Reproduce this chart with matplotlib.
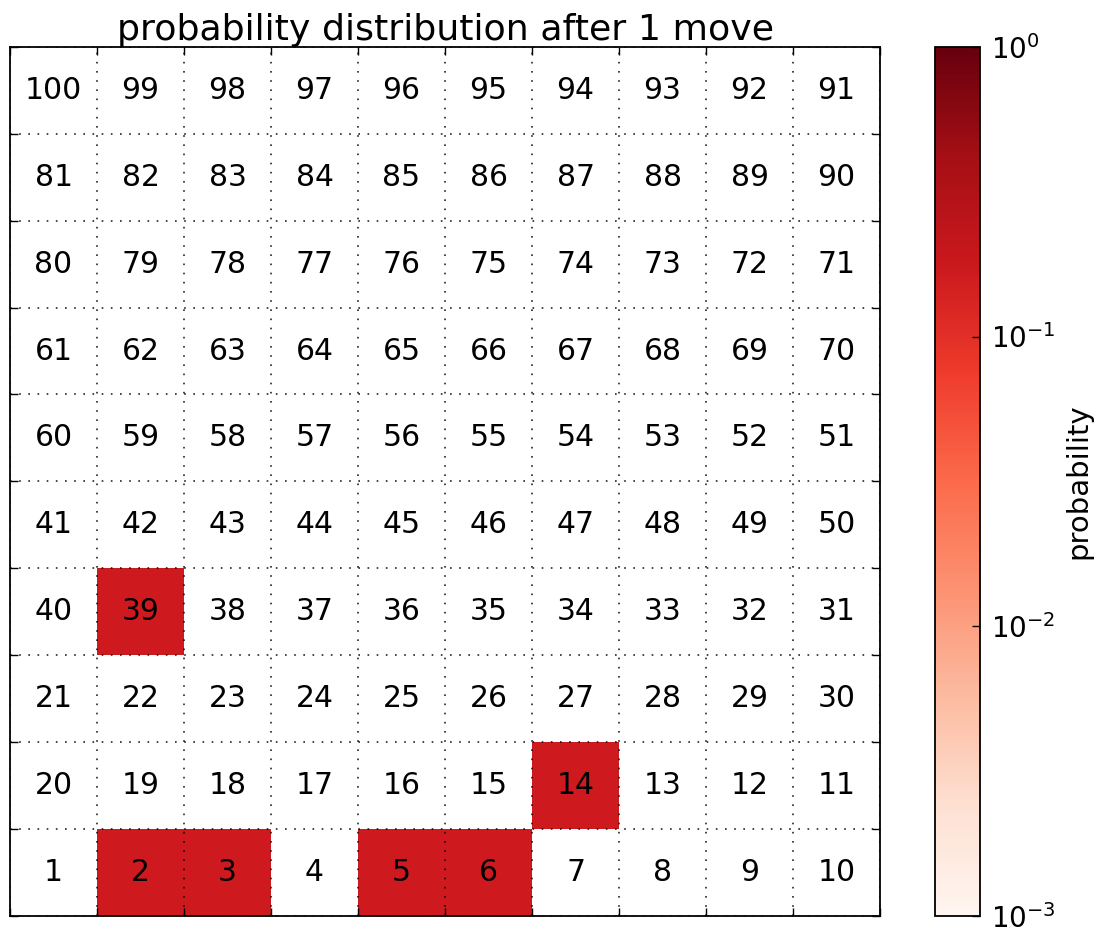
import numpy as np
import matplotlib
matplotlib.use("Agg")
import matplotlib.pyplot as plt
from matplotlib.colors import LogNorm

plt.rcParams['font.family'] = ['DejaVu Sans']
plt.rcParams['axes.unicode_minus'] = False

# board size and the squares reachable after one roll (die 1..6, ladders 1->39, 4->14)
n = 10
reached_squares = [2, 3, 5, 6, 14, 39]
reached_prob = [1 / 6] * 6
title = "probability distribution after 1 move"

prob = np.zeros(n * n)
for sq, p in zip(reached_squares, reached_prob):
    prob[sq - 1] = p


def square_at(row, col):
    # boustrophedon numbering: even rows run left->right, odd rows right->left
    if row % 2 == 0:
        return row * n + col + 1
    return row * n + (n - 1 - col) + 1


grid = np.zeros((n, n))
for r in range(n):
    for c in range(n):
        grid[r, c] = prob[square_at(r, c) - 1]
grid = np.ma.masked_where(grid <= 0, grid)

fig = plt.figure(figsize=(11.02, 9.32), dpi=100)
ax = fig.add_axes([0.0091, 0.0175, 0.7895, 0.9321])
cax = fig.add_axes([0.8485, 0.0175, 0.0408, 0.9321])

mesh = ax.pcolormesh(np.arange(n + 1), np.arange(n + 1), grid,
                     cmap='Reds', norm=LogNorm(vmin=1e-3, vmax=1))

for r in range(n):
    for c in range(n):
        ax.text(c + 0.5, r + 0.5, str(square_at(r, c)), ha='center', va='center',
                fontsize=21.5, color='black')

ax.set_xlim(0, n)
ax.set_ylim(0, n)
ax.set_xticks(np.arange(n + 1))
ax.set_yticks(np.arange(n + 1))
ax.set_xticklabels([])
ax.set_yticklabels([])
ax.tick_params(direction='in', length=6, width=1, top=True, right=True)
ax.grid(True, color='black', linestyle=(0, (1, 4.5)), linewidth=1.2, alpha=0.85)
ax.set_axisbelow(False)
for s in ax.spines.values():
    s.set_linewidth(1.3)
ax.set_title(title, fontsize=26.2, pad=5)

cb = fig.colorbar(mesh, cax=cax)
cb.ax.minorticks_off()
cb.ax.tick_params(direction='in', length=6, width=1, labelsize=20, pad=8)
cb.outline.set_linewidth(1.3)
cb.set_label("probability", fontsize=21, labelpad=6)

fig.savefig("out.png", dpi=100)
